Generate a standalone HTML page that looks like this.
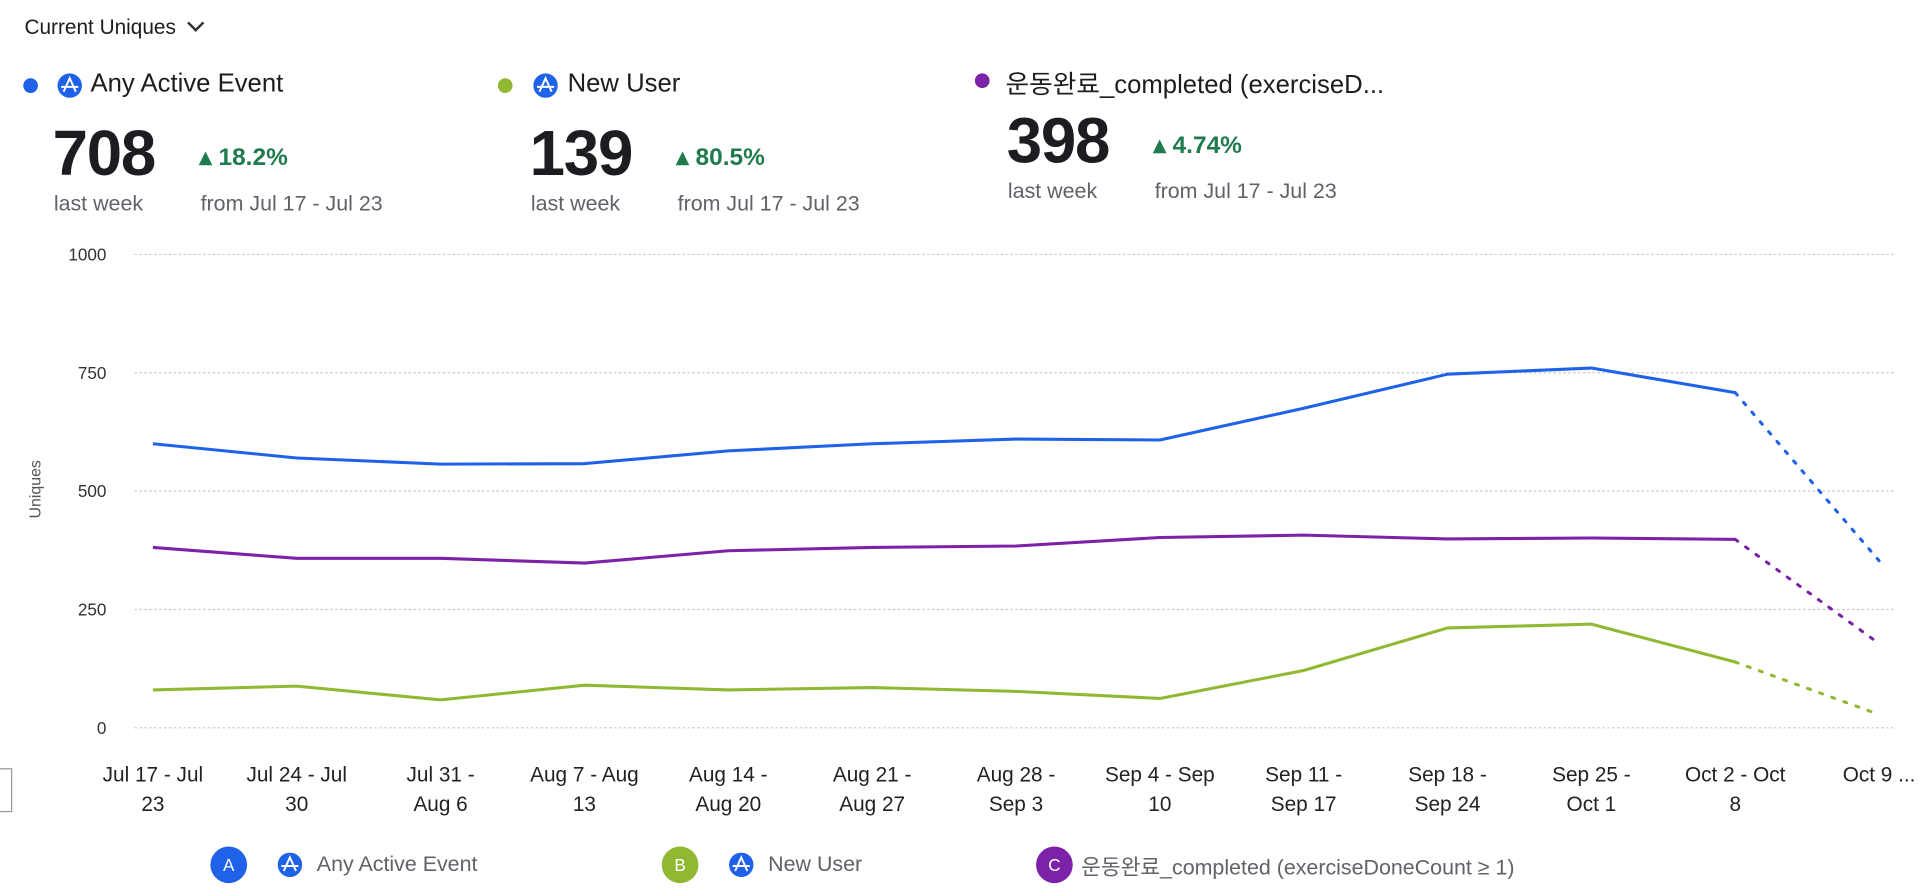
<!DOCTYPE html>
<html><head><meta charset="utf-8">
<style>
body{margin:0;background:#fff;overflow:hidden;width:1918px;height:892px;font-family:"Liberation Sans","Noto Sans CJK KR",sans-serif;}
#root{position:absolute;left:0;top:0;width:1568px;height:730px;transform:scale(1.2232);transform-origin:0 0;color:#1d1d21;}
.abs{position:absolute;white-space:nowrap;}
.title{font-size:21px;}
.big{font-size:52px;font-weight:600;letter-spacing:-1px;}
.chg{font-size:20px;color:#1f7a4d;font-weight:600;}
.sub{font-size:17.5px;color:#5f6268;}
.dot{position:absolute;width:12px;height:12px;border-radius:50%;}
</style></head><body>
<div id="root">
<div class="abs" style="left:20px;top:13px;font-size:17px;">Current Uniques <span style="display:inline-block;width:8px;height:8px;border-right:2px solid #333;border-bottom:2px solid #333;transform:rotate(45deg);margin-left:6px;position:relative;top:-4px"></span></div>

<div>
<div class="dot" style="left:19px;top:64px;background:#1f62e8"></div>
<svg class="abs" style="left:47px;top:60px" width="20" height="20"><circle cx="10" cy="10" r="10" fill="#1f62e8"/><path d="M3 11 H17 M5 15 L10 4 L15 15" stroke="#fff" stroke-width="1.6" fill="none"/></svg>
<div class="abs title" style="left:74px;top:57px">Any Active Event</div>
<div class="abs big" style="left:43px;top:96px">708</div>
<div class="abs chg" style="left:163px;top:116px">▴ 18.2%</div>
<div class="abs sub" style="left:44px;top:156px">last week</div>
<div class="abs sub" style="left:164px;top:156px">from Jul 17 - Jul 23</div>
</div>

<div>
<div class="dot" style="left:407px;top:64px;background:#90b832"></div>
<svg class="abs" style="left:436px;top:60px" width="20" height="20"><circle cx="10" cy="10" r="10" fill="#1f62e8"/><path d="M3 11 H17 M5 15 L10 4 L15 15" stroke="#fff" stroke-width="1.6" fill="none"/></svg>
<div class="abs title" style="left:464px;top:57px">New User</div>
<div class="abs big" style="left:433px;top:96px">139</div>
<div class="abs chg" style="left:553px;top:116px">▴ 80.5%</div>
<div class="abs sub" style="left:434px;top:156px">last week</div>
<div class="abs sub" style="left:554px;top:156px">from Jul 17 - Jul 23</div>
</div>

<div>
<div class="dot" style="left:797px;top:60px;background:#7c22a8"></div>
<div class="abs title" style="left:822px;top:53px">운동완료_completed (exerciseD...</div>
<div class="abs big" style="left:823px;top:86px">398</div>
<div class="abs chg" style="left:943px;top:106px">▴ 4.74%</div>
<div class="abs sub" style="left:824px;top:146px">last week</div>
<div class="abs sub" style="left:944px;top:146px">from Jul 17 - Jul 23</div>
</div>

<div class="abs" style="left:-2px;top:628px;width:10px;height:34px;border:1px solid #999;"></div>

<svg id="chart" class="abs" style="left:0;top:0" width="1568" height="730"></svg>

<div>
<div class="abs" style="left:172px;top:692px;height:30px;">
<div style="position:absolute;left:0;top:0;width:30px;height:30px;border-radius:50%;background:#1f62e8;color:#fff;font-size:14px;text-align:center;line-height:30px">A</div>
<svg style="position:absolute;left:55px;top:5px" width="20" height="20"><circle cx="10" cy="10" r="10" fill="#1f62e8"/><path d="M3 11 H17 M5 15 L10 4 L15 15" stroke="#fff" stroke-width="1.6" fill="none"/></svg>
<div class="sub" style="position:absolute;left:87px;top:4px;white-space:nowrap">Any Active Event</div></div>
<div class="abs" style="left:541px;top:692px;height:30px;">
<div style="position:absolute;left:0;top:0;width:30px;height:30px;border-radius:50%;background:#90b832;color:#fff;font-size:14px;text-align:center;line-height:30px">B</div>
<svg style="position:absolute;left:55px;top:5px" width="20" height="20"><circle cx="10" cy="10" r="10" fill="#1f62e8"/><path d="M3 11 H17 M5 15 L10 4 L15 15" stroke="#fff" stroke-width="1.6" fill="none"/></svg>
<div class="sub" style="position:absolute;left:87px;top:4px;white-space:nowrap">New User</div></div>
<div class="abs" style="left:847px;top:692px;height:30px;">
<div style="position:absolute;left:0;top:0;width:30px;height:30px;border-radius:50%;background:#7c22a8;color:#fff;font-size:14px;text-align:center;line-height:30px">C</div>
<div class="sub" style="position:absolute;left:37px;top:4px;white-space:nowrap">운동완료_completed (exerciseDoneCount ≥ 1)</div></div>
</div>
</div>
<script>
const categories=[["Jul 17 - Jul","23"],["Jul 24 - Jul","30"],["Jul 31 -","Aug 6"],["Aug 7 - Aug","13"],["Aug 14 -","Aug 20"],["Aug 21 -","Aug 27"],["Aug 28 -","Sep 3"],["Sep 4 - Sep","10"],["Sep 11 -","Sep 17"],["Sep 18 -","Sep 24"],["Sep 25 -","Oct 1"],["Oct 2 - Oct","8"],["Oct 9 ...",""]];
const anyActive=[600,570,557,558,585,600,610,608,675,747,760,708,353];
const newUser=[80,88,59,90,80,85,77,62,121,211,219,139,28];
const exercise=[381,358,358,348,374,381,384,402,407,399,401,398,178];
const yTicks=[0,250,500,750,1000];
const NS="http://www.w3.org/2000/svg";
const svg=document.getElementById('chart');
const X0=125,DX=117.6,Y0=595,YH=387;
function xs(i){return X0+i*DX;}
function ys(v){return Y0-v/1000*YH;}
function mk(t,a){const e=document.createElementNS(NS,t);for(const k in a)e.setAttribute(k,a[k]);svg.appendChild(e);return e;}
yTicks.forEach(v=>{
 const g=mk('line',{x1:110,x2:1550,y1:ys(v),y2:ys(v),stroke:'#c8c8cc','stroke-width':1,'stroke-dasharray':'2,2'});
 
 
 const t=mk('text',{x:87,y:ys(v)+5,'text-anchor':'end','font-size':14,fill:'#333'});
 t.textContent=v;
 
 
});
const yt=mk('text',{x:33,y:400,'text-anchor':'middle','font-size':13,fill:'#555',transform:'rotate(-90 33 400)'});
yt.textContent='Uniques';


categories.forEach((c,i)=>{
 const t=mk('text',{x:xs(i),y:639,'text-anchor':'middle','font-size':17,fill:'#222'});
 
 
 c.forEach((s,j)=>{const ts=document.createElementNS(NS,'tspan');ts.setAttribute('x',xs(i));ts.setAttribute('dy',j?24:0);ts.textContent=s;t.appendChild(ts);});
});
function series(vals,color,name){
 const n=vals.length;
 const d=vals.slice(0,n-1).map((v,i)=>(i?'L':'M')+xs(i)+','+ys(v)).join(' ');
 const p=mk('path',{d:d,fill:'none',stroke:color,'stroke-width':2.5,'stroke-linejoin':'round'});
 
 
 const q=mk('path',{d:'M'+xs(n-2)+','+ys(vals[n-2])+' L'+xs(n-1)+','+ys(vals[n-1]),fill:'none',stroke:color,'stroke-width':2.5,'stroke-dasharray':'2.5,8','stroke-linecap':'round'});
 
 
}
series(anyActive,'#1f62e8','any-active-event');
series(exercise,'#7c22a8','exercise-completed');
series(newUser,'#90b832','new-user');
</script>
</body></html>
